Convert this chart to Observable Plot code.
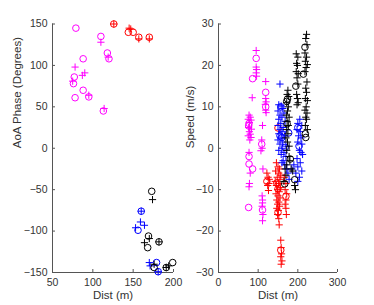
<!DOCTYPE html>
<html>
<head>
<meta charset="utf-8">
<script src="https://cdn.jsdelivr.net/npm/d3@7"></script>
<script src="https://cdn.jsdelivr.net/npm/@observablehq/plot@0.6"></script>
<style>
  html, body { margin: 0; padding: 0; background: #fff; }
  #wrap { display: flex; width: 374px; height: 305px; }
</style>
</head>
<body>
<div id="wrap"></div>
<script>
// ---------- Left panel: AoA Phase vs Dist ----------
const leftMagentaCircle = [[79,145],[77,86],[76,78],[78,61],[88,108],[88,70],[95,62],[110,135],[118,115],[120,108],[113,45]];
const leftMagentaPlus = [[78,98],[75,81],[87,88],[90,91],[95,64],[110,128],[114,48],[119,110]];
const leftRedCircle = [[126,150],[144,140],[150,140],[157,134],[170,134]];
const leftRedPlus = [[126,150],[145,145],[147,144],[157,132],[170,132]];
const leftBlueCircle = [[160,-76],[156,-99],[179,-138],[181,-149]];
const leftBluePlus = [[160,-76],[159,-89],[164,-93],[153,-96],[170,-138],[171,-142],[181,-149]];
const leftBlackCircle = [[173,-52],[169,-106],[168,-120],[182,-113],[176,-144],[191,-144],[199,-138]];
const leftBlackPlus = [[174,-62],[170,-109],[164,-114],[182,-113],[176,-140],[191,-144],[194,-142]];

// ---------- Right panel: Speed vs Dist ----------
const rightMagentaCircle = [[77,6],[76,5.4],[86,16.8],[95,21.7],[119,13.5],[119,10],[109,1],[77,-2],[77,-3.8],[86,-5],[76,-14.3],[111,-14.9]];
const rightMagentaPlus = [[77,8],[80,7.5],[75,7],[82,6.8],[78,6.2],[76,5],[83,4.6],[78,4],[80,3.4],[75,3],[82,2.6],[79,2],[85,12.2],
  [77,-1],[78,-8.5],[77,-9.3],[80,-6],
  [95,23.6],[95,19.6],[96,19],[95,18.2],[96,17.4],
  [119,16.1],[119,12],[120,11.2],[118,10.6],[119,9.2],[120,8.6],[111,5.5],[109,2],[110,0],
  [107,-0.6],[112,-5],[110,-11.5],[111,-12.5],[111,-13.2],[110,-14],[112,-16],[111,-17.5]];
const rightRedCircle = [[150,4.9],[122,-8],[147,-8.4],[150,-9.8],[150,-15.5],[170,-11.6],[157,-24.6]];
const rightRedPlus = [[122,-6],[125,-7],[127,-8.5],[124,-9],[126,-10.2],[128,-7.5],
  [146,-3.5],[150,-4.5],[154,-5],[144,-5.5],[152,-6],[157,-6.5],[148,-7],[155,-7.5],[143,-8],[151,-8.5],[146,-9],[156,-9.5],
  [149,-10],[153,-10.5],[145,-11],[150,-11.5],[155,-12],[147,-12.5],[152,-13],[149,-13.5],[154,-14],[147,-14.5],[151,-15],[149,-16],[152,-17],
  [153,-18.5],[157,-22.2],[158,-24],[159,-25.5],[157,-26.2],[160,-27.2],[158,-28],
  [166,-7],[170,-8.5],[168,-10],[172,-11],[170,-12.5],[168,-13.5],[170,-14.5],[171,-16]];
const rightBlueCircle = [[157,10],[155,3],[160,2.6],[168,0.2],[177,3.7],[200,5],[203,0.5]];
const rightBluePlus = [[155,15.5],[152,10.5],[158,10.2],[162,9.6],[150,9],[165,8.5],[155,8],[160,7.5],[152,7],[168,6.5],[157,6],
  [150,5.5],[163,5],[155,4.5],[160,4],[152,3.5],[166,3],[158,2.5],[150,2],[162,1.5],[155,1],[170,0.5],[160,0],[152,-0.5],
  [165,-1],[158,-1.5],[170,-2],[163,-3],[167,-4],[172,-5],[160,-3.5],[175,-6],[178,-7.5],
  [205,7],[200,6],[210,5.5],[198,4.5],[206,4],[202,3],[208,2.5],[200,1.5],[210,1],[204,-0.5],[212,-1.5],[198,-2.5],
  [206,-3.5],[200,-4.5],[210,-5.5],[195,-6],[204,-7],[200,-8],[208,-1],[185,-5],[190,-4]];
const rightBlackCircle = [[174,11.9],[172,11.3],[173,5.9],[195,15],[218,24.4],[214,17.9],[219,3.5],[220,2.6],[167,-8.6],[181,-2.6],[192,-7.6]];
const rightBlackPlus = [[175,14],[173,13],[177,12.5],[172,11],[176,10],[174,9],[171,8],[178,7.5],[173,6.5],[176,5.5],[172,4.5],
  [175,3.5],[170,2.5],[174,1.5],[178,0.5],[172,-0.5],
  [196,22.8],[200,22],[197,20.5],[199,20],[196,18.5],[201,18],[198,17],[200,15.5],[197,13],[199,12],[201,11],[198,10.5],
  [222,27.5],[220,26.5],[223,25],[218,23],[222,22],[219,21],[224,20.2],[221,19.5],[218,18.5],[223,16],[220,14.5],
  [222,13.5],[219,12],[224,11.5],[221,10],[218,9.2],[223,8.5],[220,7.5],[222,7],[219,5.5],[224,4.5],
  [168,-5],[172,-4],[180,-3],[183,-5],[187,-5.5],[192,-9],[194,-10],[170,-6.5],[178,-2],[165,-8]];

// axis ticks and labels
const leftXTicks = [50, 100, 150, 200];
const leftYTicks = [-150, -100, -50, 0, 50, 100, 150];
const rightXTicks = [0, 100, 200, 300];
const rightYTicks = [-30, -20, -10, 0, 10, 20, 30];
const xTitle = "Dist (m)";
const leftYTitle = "AoA Phase (Degrees)";
const rightYTitle = "Speed (m/s)";

const colors = {magenta: "#ff00ff", red: "#ff0000", blue: "#0000ff", black: "#000000"};
const axisColor = "#555";
const textColor = "#333";

const plusSymbol = {
  draw(ctx, size) {
    const r = Math.sqrt(size / Math.PI);
    ctx.moveTo(-r, 0); ctx.lineTo(r, 0);
    ctx.moveTo(0, -r); ctx.lineTo(0, r);
  }
};

function seriesMarks(circles, pluses, color) {
  return [
    Plot.dot(circles, {x: d => d[0], y: d => d[1], r: 3.3, stroke: color, fill: "none", strokeWidth: 1}),
    Plot.dot(pluses, {x: d => d[0], y: d => d[1], r: 3.6, symbol: plusSymbol, stroke: color, fill: "none", strokeWidth: 1})
  ];
}

function panel({xTicks, yTicks, yTitle, marginLeft, marginRight, yTitleDx, series}) {
  return Plot.plot({
    width: 187, height: 305, marginLeft, marginRight, marginTop: 23.5, marginBottom: 33,
    style: {fontSize: "10.5px", color: textColor, background: "transparent", overflow: "visible", fontFamily: "Liberation Sans, Arial, sans-serif"},
    x: {domain: [xTicks[0], xTicks[xTicks.length - 1]]},
    y: {domain: [yTicks[0], yTicks[yTicks.length - 1]]},
    marks: [
      Plot.axisX({ticks: xTicks, tickSize: -3, tickPadding: 9, label: null, stroke: axisColor}),
      Plot.axisY({ticks: yTicks, tickSize: -3, tickPadding: 8, label: null, stroke: axisColor}),
      Plot.ruleY([yTicks[0]], {stroke: axisColor}),
      Plot.ruleX([xTicks[0]], {stroke: axisColor}),
      ...series.flatMap(s => seriesMarks(s[0], s[1], s[2])),
      Plot.text([xTitle], {frameAnchor: "bottom", dy: 26, fontSize: 11.5, fill: textColor}),
      Plot.text([yTitle], {frameAnchor: "left", dx: yTitleDx, rotate: -90, fontSize: 11.5, fill: textColor})
    ]
  });
}

const left = panel({
  xTicks: leftXTicks, yTicks: leftYTicks, yTitle: leftYTitle, marginLeft: 52, marginRight: 14, yTitleDx: -35,
  series: [
    [leftMagentaCircle, leftMagentaPlus, colors.magenta],
    [leftRedCircle, leftRedPlus, colors.red],
    [leftBlueCircle, leftBluePlus, colors.blue],
    [leftBlackCircle, leftBlackPlus, colors.black]
  ]
});

const right = panel({
  xTicks: rightXTicks, yTicks: rightYTicks, yTitle: rightYTitle, marginLeft: 31, marginRight: 37, yTitleDx: -28,
  series: [
    [rightMagentaCircle, rightMagentaPlus, colors.magenta],
    [rightRedCircle, rightRedPlus, colors.red],
    [rightBlueCircle, rightBluePlus, colors.blue],
    [rightBlackCircle, rightBlackPlus, colors.black]
  ]
});

document.getElementById("wrap").append(left, right);
</script>
</body>
</html>
